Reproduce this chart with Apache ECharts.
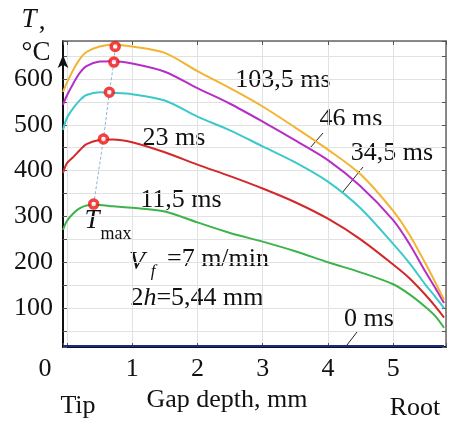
<!DOCTYPE html>
<html>
<head>
<meta charset="utf-8">
<script src="https://cdn.jsdelivr.net/npm/echarts@6/dist/echarts.min.js"></script>
<style>html,body{margin:0;padding:0;background:#fff}#c{width:449px;height:425px}</style>
</head>
<body>
<div id="c"></div>
<script>
// Gap depth positions (mm)
const depth = [-0.06, 0, 0.1, 0.2, 0.3, 0.5, 0.7, 1.0, 1.5, 2.0, 2.5, 3.0, 3.5, 4.0, 4.5, 5.0, 5.25, 5.5, 5.65, 5.78];
// Temperatures (°C) at each depth for each time
const t103_5 = [572, 592, 621, 644, 659, 671, 675, 671, 657, 617, 580, 540, 494, 446, 392, 312, 260, 196, 155, 118];
const t46    = [544, 564, 591, 614, 628, 638, 639, 634, 616, 580, 546, 507, 466, 423, 366, 292, 240, 178, 143, 111];
const t34_5  = [489, 515, 537, 554, 565, 571, 570, 567, 553, 518, 488, 453, 418, 376, 318, 240, 198, 150, 124, 100];
const t23    = [395, 416, 430, 445, 458, 467, 468, 462, 440, 413, 388, 361, 331, 295, 250, 195, 165, 128, 103, 79];
const t11_5  = [271, 290, 307, 318, 324, 325, 322, 319, 311, 287, 264, 245, 224, 200, 178, 152, 130, 102, 82, 57];
const t0     = [17, 17, 17, 17, 17, 17, 17, 17, 17, 17, 17, 17, 17, 17, 17, 17, 17, 17, 17, 17];
// Tmax points (depth, temperature)
const tmaxDepth = [0.41, 0.56, 0.65, 0.72, 0.74];
const tmaxTemp  = [327, 469, 571, 637, 671];
// Tick labels
const xTickLabels = ['1', '2', '3', '4', '5'];
const yTickLabels = ['100', '200', '300', '400', '500', '600'];

const SERIF = '"Liberation Serif", "Times New Roman", serif';
const pair = (xs, ys) => xs.map((x, i) => [x, ys[i]]);

const chart = echarts.init(document.getElementById('c'), null, {renderer: 'canvas'});

function curve(name, data, color) {
  return {
    name, type: 'line', data: pair(depth, data), showSymbol: false, smooth: 0.3,
    lineStyle: {color, width: 2}, itemStyle: {color}, z: 3, silent: true, animation: false
  };
}

const txt = (text, x, y, size) => ({
  type: 'text', x, y, silent: true,
  style: {text, font: (size || 26) + 'px ' + SERIF, fill: '#111', align: 'center', verticalAlign: 'middle', textAlign: 'center', textVerticalAlign: 'middle'}
});
const itxt = (text, x, y, size) => ({
  type: 'text', x, y, silent: true,
  style: {text, font: 'italic ' + (size || 26) + 'px ' + SERIF, fill: '#111', align: 'center', verticalAlign: 'middle', textAlign: 'center', textVerticalAlign: 'middle'}
});
const seg = (x1, y1, x2, y2) => ({type: 'line', silent: true, shape: {x1, y1, x2, y2}, style: {stroke: '#222', lineWidth: 1}});

const option = {
  backgroundColor: '#fff',
  animation: false,
  grid: {left: 63, right: 3, top: 41, bottom: 78, containLabel: false},
  xAxis: [{
    type: 'value', min: -0.06, max: 5.81, splitNumber: 6,
    axisLine: {show: true, onZero: false, lineStyle: {color: '#111', width: 2}},
    axisTick: {show: true, inside: true, length: 4, lineStyle: {color: '#555'}},
    axisLabel: {show: true, margin: 9, color: '#111', fontFamily: SERIF, fontSize: 26,
      formatter: v => { const s = String(Math.round(v)); return (Math.abs(v - Math.round(v)) < 1e-6 && xTickLabels.indexOf(s) >= 0) ? s : ''; }},
    splitLine: {show: true, lineStyle: {color: '#e2e2e2', width: 1}}
  }, {
    type: 'value', position: 'top', min: -0.06, max: 5.81, splitNumber: 6,
    axisLine: {show: true, onZero: false, lineStyle: {color: '#666', width: 1.5}},
    axisTick: {show: true, inside: true, length: 4, lineStyle: {color: '#555'}},
    axisLabel: {show: false}, splitLine: {show: false}
  }],
  yAxis: [{
    type: 'value', min: 15, max: 683, splitNumber: 13,
    axisLine: {show: true, onZero: false, lineStyle: {color: '#111', width: 2}, symbol: ['none', 'arrow'], symbolSize: [8, 13], symbolOffset: [0, -14]},
    axisTick: {show: true, inside: true, length: 4, lineStyle: {color: '#555'}},
    axisLabel: {show: true, margin: 10, color: '#111', fontFamily: SERIF, fontSize: 26,
      formatter: v => { const s = String(Math.round(v)); return (Math.abs(v - Math.round(v)) < 1e-6 && yTickLabels.indexOf(s) >= 0) ? s : ''; }},
    splitLine: {show: true, lineStyle: {color: '#e2e2e2', width: 1}}
  }, {
    type: 'value', position: 'right', min: 15, max: 683, splitNumber: 13,
    axisLine: {show: true, onZero: false, lineStyle: {color: '#666', width: 1.5}},
    axisTick: {show: true, inside: true, length: 4, lineStyle: {color: '#555'}},
    axisLabel: {show: false}, splitLine: {show: false}
  }],
  series: [
    curve('0 ms', t0, '#1b2a8a'),
    curve('11,5 ms', t11_5, '#3cb44b'),
    curve('23 ms', t23, '#d3282a'),
    curve('34,5 ms', t34_5, '#3cc9cc'),
    curve('46 ms', t46, '#b52fc6'),
    curve('103,5 ms', t103_5, '#f2b431'),
    {
      name: 'Tmax line', type: 'line', data: pair(tmaxDepth, tmaxTemp), showSymbol: false, smooth: false,
      lineStyle: {color: '#8ab4dc', width: 1, type: [3, 2]}, z: 4, silent: true
    },
    {
      name: 'Tmax', type: 'scatter', data: pair(tmaxDepth, tmaxTemp), symbol: 'circle', symbolSize: 8,
      itemStyle: {color: '#fff', borderColor: '#ee1111', borderWidth: 3.5}, z: 5, silent: true
    }
  ],
  graphic: [
    itxt('T', 29, 20, 27), txt(',', 42, 22, 27),
    txt('°C', 36, 53, 27),
    txt('0', 45, 369, 26),
    txt('Tip', 78, 406, 26),
    txt('Gap depth, mm', 227, 400, 26),
    txt('Root', 415, 408, 26),
    txt('103,5 ms', 283, 80, 26),
    txt('46 ms', 351, 119, 26),
    seg(323, 133, 310, 148),
    txt('34,5 ms', 392, 153, 26),
    seg(363, 167, 342, 193),
    txt('23 ms', 174, 138, 26),
    txt('11,5 ms', 181, 200, 26),
    itxt('T', 92, 221, 27), txt('max', 116, 234, 18),
    itxt('V', 137, 262, 26), itxt('f', 153, 272, 17),
    txt('=7 m/min', 218, 259, 26),
    {
      type: 'text', x: 197, y: 298, silent: true,
      style: {text: '{r|2}{i|h}{r|=5,44 mm}', align: 'center', verticalAlign: 'middle', textAlign: 'center', textVerticalAlign: 'middle',
        rich: {r: {font: '26px ' + SERIF, fill: '#111', color: '#111'}, i: {font: 'italic 26px ' + SERIF, fill: '#111', color: '#111'}}}
    },
    txt('0 ms', 369, 319, 26),
    seg(357, 332, 347, 345)
  ]
};
chart.setOption(option);
</script>
</body>
</html>
